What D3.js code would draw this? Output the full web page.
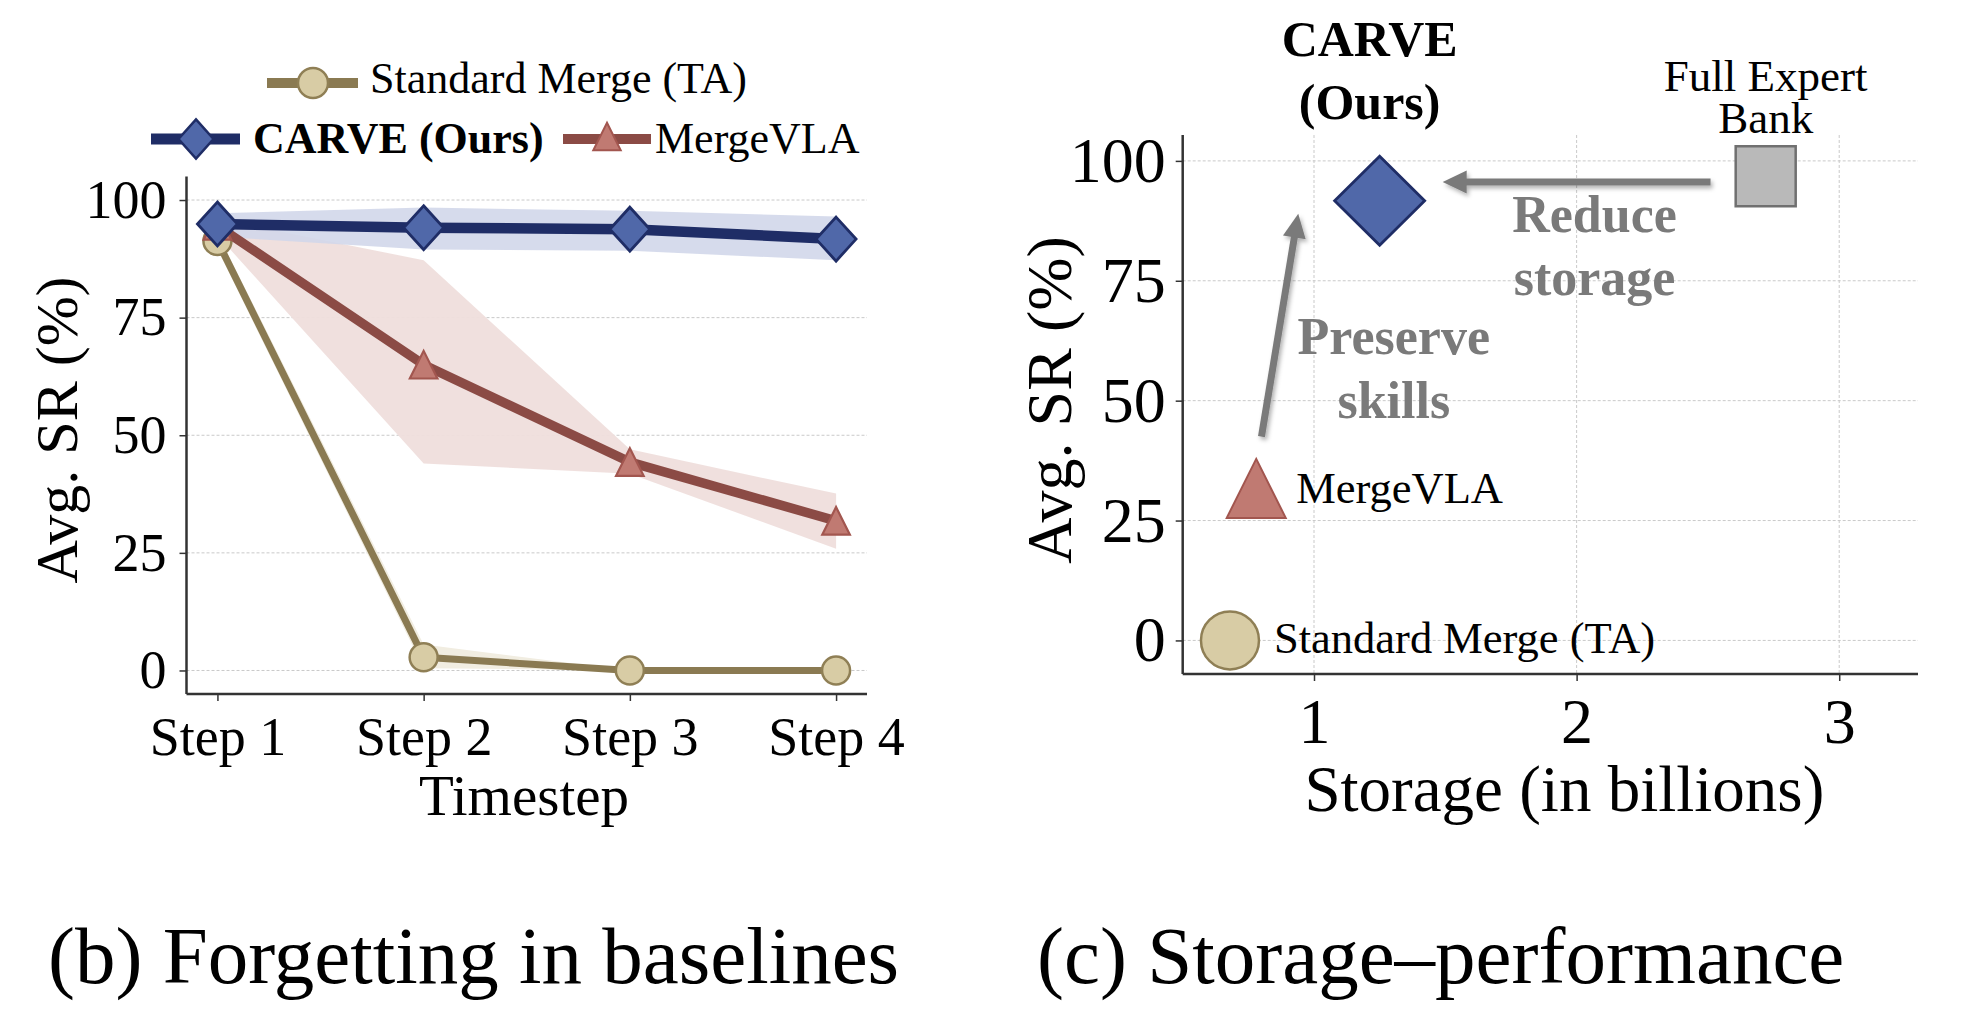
<!DOCTYPE html>
<html><head><meta charset="utf-8">
<script src="https://cdn.jsdelivr.net/npm/d3@7"></script>
<style>
html,body{margin:0;padding:0;background:#fff;}
svg{display:block;font-family:"Liberation Serif","Times New Roman",serif;}
</style></head>
<body>
<svg id="chart" width="1978" height="1030"></svg>
<script>
// ---------- DATA ----------
// (b) Forgetting in baselines
const steps = ["Step 1", "Step 2", "Step 3", "Step 4"];
const carveMean = [94.9, 94.1, 93.8, 91.7];
const carveLo   = [92.2, 89.5, 89.2, 87.2];
const carveHi   = [97.2, 98.4, 97.7, 96.5];
const mvlaMean  = [94.5, 65.0, 44.3, 31.8];
const mvlaLo    = [92.5, 44.0, 41.8, 25.9];
const mvlaHi    = [96.0, 87.2, 47.0, 37.6];
const taMean    = [91.3, 2.8, 0, 0];
const taLo      = [89.5, 0.5, 0, 0];
const taHi      = [93.0, 5.5, 0, 0];
const yTicks = [0, 25, 50, 75, 100];

// (c) Storage–performance
const methods = ["Standard Merge (TA)", "MergeVLA", "CARVE (Ours)", "Full Expert Bank"];
const storage = [0.68, 0.78, 1.25, 2.72];
const avgSR   = [0, 31.7, 91.7, 96.8];
const storageTicks = [1, 2, 3];

const captions = ["(b) Forgetting in baselines", "(c) Storage–performance"];

// ---------- STYLE ----------
const C = {
  carveLine: "#1f2d66", carveFill: "#5068a9", carveBand: "#d2d7ea",
  mvlaLine: "#8b4b45", mvlaFill: "#c07a72", mvlaEdge: "#a2564f", mvlaBand: "#efdedc",
  taLine: "#8a7a52", taFill: "#d8cca5", taEdge: "#8f7f55", taBand: "#f1ede1",
  fullFill: "#b9b9b9", fullEdge: "#707070",
  arrow: "#7a7a7a", grid: "#c9c9c9", spine: "#333"
};

const svg = d3.select("#chart");
svg.append("rect").attr("width", 1978).attr("height", 1030).attr("fill", "#fff");
const defs = svg.append("defs");
const f = defs.append("filter").attr("id", "shadow").attr("x", "-20%").attr("y", "-20%").attr("width", "140%").attr("height", "140%");
f.append("feDropShadow").attr("dx", 2).attr("dy", 3).attr("stdDeviation", 2.2).attr("flood-color", "#000").attr("flood-opacity", 0.3);

// marker path helpers
function diamond(cx, cy, hw, hh) { return `M${cx},${cy-hh}L${cx+hw},${cy}L${cx},${cy+hh}L${cx-hw},${cy}Z`; }
function triangle(cx, cy, h) { return `M${cx},${cy-h}L${cx+h},${cy+h}L${cx-h},${cy+h}Z`; }
function square(cx, cy, h) { return `M${cx-h},${cy-h}L${cx+h},${cy-h}L${cx+h},${cy+h}L${cx-h},${cy+h}Z`; }

function styleAxis(g, fontSize) {
  g.select(".domain").attr("stroke", C.spine).attr("stroke-width", 2.5);
  g.selectAll(".tick line").attr("stroke", C.spine).attr("stroke-width", 1.5);
  g.selectAll(".tick text").attr("fill", "#000").attr("font-size", fontSize)
    .attr("font-family", "Liberation Serif, Times New Roman, serif");
}

// =============== LEFT PANEL ===============
const L = { x0: 186.5, x1: 867, yTop: 176.5, yBot: 694 };
const xL = d3.scaleLinear().domain([-0.15, 3.15]).range([L.x0, L.x1]);
const yL = d3.scaleLinear().domain([-5, 105]).range([L.yBot, L.yTop]);
const gL = svg.append("g");

// grid
gL.append("g").selectAll("line").data(yTicks).join("line")
  .attr("x1", L.x0).attr("x2", L.x1).attr("y1", d => yL(d)).attr("y2", d => yL(d))
  .attr("stroke", C.grid).attr("stroke-width", 1).attr("stroke-dasharray", "3,2");

const idx = d3.range(steps.length);
const area = (lo, hi) => d3.area().x(i => xL(i)).y0(i => yL(lo[i])).y1(i => yL(hi[i]))(idx);
const line = (m) => d3.line().x(i => xL(i)).y(i => yL(m[i]))(idx);

// bands
gL.append("path").attr("d", area(taLo, taHi)).attr("fill", C.taBand);
gL.append("path").attr("d", area(mvlaLo, mvlaHi)).attr("fill", C.mvlaBand).attr("opacity", 0.95);
gL.append("path").attr("d", area(carveLo, carveHi)).attr("fill", C.carveBand).attr("opacity", 0.9);

// TA
gL.append("path").attr("d", line(taMean)).attr("fill", "none").attr("stroke", C.taLine).attr("stroke-width", 7).attr("stroke-linejoin", "round");
gL.append("g").selectAll("circle").data(idx).join("circle")
  .attr("cx", i => xL(i)).attr("cy", i => yL(taMean[i])).attr("r", 14)
  .attr("fill", C.taFill).attr("stroke", C.taEdge).attr("stroke-width", 2.5);
// MergeVLA
gL.append("path").attr("d", line(mvlaMean)).attr("fill", "none").attr("stroke", C.mvlaLine).attr("stroke-width", 9.5).attr("stroke-linejoin", "round");
gL.append("g").selectAll("path").data(idx).join("path")
  .attr("d", i => triangle(xL(i), yL(mvlaMean[i]), 13.8))
  .attr("fill", C.mvlaFill).attr("stroke", C.mvlaEdge).attr("stroke-width", 2.2);
// CARVE
gL.append("path").attr("d", line(carveMean)).attr("fill", "none").attr("stroke", C.carveLine).attr("stroke-width", 10.5).attr("stroke-linejoin", "round");
gL.append("g").selectAll("path").data(idx).join("path")
  .attr("d", i => diamond(xL(i), yL(carveMean[i]), 20, 22))
  .attr("fill", C.carveFill).attr("stroke", C.carveLine).attr("stroke-width", 2.8);

// axes
const axL = gL.append("g").attr("transform", `translate(${L.x0},0)`)
  .call(d3.axisLeft(yL).tickValues(yTicks).tickSize(7).tickPadding(13));
styleAxis(axL, 54);
axL.select(".domain").attr("d", `M0,${L.yTop}V${L.yBot}`);
const axB = gL.append("g").attr("transform", `translate(0,${L.yBot})`)
  .call(d3.axisBottom(xL).tickValues(idx).tickFormat(i => steps[i]).tickSize(7));
styleAxis(axB, 54);
axB.select(".domain").attr("d", `M${L.x0},0H${L.x1}`);
axB.selectAll(".tick text").attr("y", 61).attr("dy", null);

gL.append("text").attr("x", 524).attr("y", 815).attr("text-anchor", "middle")
  .attr("font-size", 57).text("Timestep");
gL.append("text").attr("transform", "translate(77,430) rotate(-90)").attr("text-anchor", "middle")
  .attr("font-size", 60).text("Avg. SR (%)");

// legend
const leg = gL.append("g");
// row 1: Standard Merge
leg.append("line").attr("x1", 267).attr("x2", 358).attr("y1", 83).attr("y2", 83).attr("stroke", C.taLine).attr("stroke-width", 10);
leg.append("circle").attr("cx", 313).attr("cy", 83).attr("r", 15).attr("fill", C.taFill).attr("stroke", C.taEdge).attr("stroke-width", 2.5);
leg.append("text").attr("x", 370).attr("y", 93).attr("font-size", 44).text(methods[0]);
// row 2: CARVE
leg.append("line").attr("x1", 151).attr("x2", 240).attr("y1", 139).attr("y2", 139).attr("stroke", C.carveLine).attr("stroke-width", 11);
leg.append("path").attr("d", diamond(196, 139, 17.5, 19.7)).attr("fill", C.carveFill).attr("stroke", C.carveLine).attr("stroke-width", 2.5);
leg.append("text").attr("x", 253).attr("y", 153).attr("font-size", 44).attr("font-weight", "bold").text(methods[2]);
// row 2: MergeVLA
leg.append("line").attr("x1", 563).attr("x2", 651).attr("y1", 139).attr("y2", 139).attr("stroke", C.mvlaLine).attr("stroke-width", 10);
leg.append("path").attr("d", triangle(607, 136.5, 13.7)).attr("fill", C.mvlaFill).attr("stroke", C.mvlaEdge).attr("stroke-width", 2);
leg.append("text").attr("x", 655).attr("y", 153).attr("font-size", 44).text(methods[1]);

// =============== RIGHT PANEL ===============
const R = { x0: 1182.7, x1: 1918, yTop: 135, yBot: 674 };
const xR = d3.scaleLinear().domain([0.5, 3.3]).range([R.x0, R.x1]);
const yR = d3.scaleLinear().domain([-7, 105.4]).range([R.yBot, R.yTop]);
const gR = svg.append("g");

gR.append("g").selectAll("line").data(yTicks).join("line")
  .attr("x1", R.x0).attr("x2", R.x1).attr("y1", d => yR(d)).attr("y2", d => yR(d))
  .attr("stroke", C.grid).attr("stroke-width", 1).attr("stroke-dasharray", "3,2");
gR.append("g").selectAll("line").data(storageTicks).join("line")
  .attr("x1", d => xR(d)).attr("x2", d => xR(d)).attr("y1", R.yTop).attr("y2", R.yBot)
  .attr("stroke", C.grid).attr("stroke-width", 1).attr("stroke-dasharray", "3,2");

// arrows (data coords)
const arrows = [
  { from: [2.51, 95.6], to: [1.49, 95.6] },
  { from: [0.80, 42.5], to: [0.94, 89.0] }
];
const ga = gR.append("g").attr("filter", "url(#shadow)");
arrows.forEach(a => {
  const x1 = xR(a.from[0]), y1 = yR(a.from[1]), x2 = xR(a.to[0]), y2 = yR(a.to[1]);
  const dx = x2 - x1, dy = y2 - y1, len = Math.hypot(dx, dy), ux = dx / len, uy = dy / len;
  const hl = 24, hw = 11.5;
  const bx = x2 - ux * hl, by = y2 - uy * hl;
  ga.append("line").attr("x1", x1).attr("y1", y1).attr("x2", bx + ux * 2).attr("y2", by + uy * 2)
    .attr("stroke", C.arrow).attr("stroke-width", 7);
  ga.append("path").attr("d", `M${x2},${y2}L${bx - uy * hw},${by + ux * hw}L${bx + uy * hw},${by - ux * hw}Z`)
    .attr("fill", C.arrow);
});

// points
const pts = gR.append("g");
pts.append("circle").attr("cx", xR(storage[0])).attr("cy", yR(avgSR[0])).attr("r", 29)
  .attr("fill", C.taFill).attr("stroke", C.taEdge).attr("stroke-width", 2.5);
pts.append("path").attr("d", triangle(xR(storage[1]), yR(avgSR[1]), 29.5))
  .attr("fill", C.mvlaFill).attr("stroke", C.mvlaEdge).attr("stroke-width", 2);
pts.append("path").attr("d", diamond(xR(storage[2]), yR(avgSR[2]), 45, 44.5))
  .attr("fill", C.carveFill).attr("stroke", C.carveLine).attr("stroke-width", 2.8);
pts.append("path").attr("d", square(xR(storage[3]), yR(avgSR[3]), 30))
  .attr("fill", C.fullFill).attr("stroke", C.fullEdge).attr("stroke-width", 2.5);

// point labels
const lab = gR.append("g");
lab.append("text").attr("x", xR(storage[0]) + 44).attr("y", yR(avgSR[0]) + 13).attr("font-size", 44.5).text(methods[0]);
lab.append("text").attr("x", xR(storage[1]) + 40).attr("y", yR(avgSR[1]) + 15).attr("font-size", 44.5).text(methods[1]);
const cx2 = xR(storage[2]) - 10, cy2 = yR(avgSR[2]);
lab.append("text").attr("x", cx2).attr("y", cy2 - 145).attr("text-anchor", "middle").attr("font-size", 50).attr("font-weight", "bold").text("CARVE");
lab.append("text").attr("x", cx2).attr("y", cy2 - 82).attr("text-anchor", "middle").attr("font-size", 50).attr("font-weight", "bold").text("(Ours)");
const cx3 = xR(storage[3]), cy3 = yR(avgSR[3]);
lab.append("text").attr("x", cx3).attr("y", cy3 - 85).attr("text-anchor", "middle").attr("font-size", 45).text("Full Expert");
lab.append("text").attr("x", cx3).attr("y", cy3 - 43).attr("text-anchor", "middle").attr("font-size", 45).text("Bank");

// annotation texts
const notes = [
  { lines: ["Reduce", "storage"], x: 1594.5, y: 231.7 },
  { lines: ["Preserve", "skills"], x: 1393.8, y: 354 }
];
notes.forEach(n => n.lines.forEach((t, k) => {
  lab.append("text").attr("x", n.x).attr("y", n.y + k * 63.5).attr("text-anchor", "middle")
    .attr("font-size", 52).attr("font-weight", "bold").attr("fill", C.arrow).text(t);
}));

// axes
const axRL = gR.append("g").attr("transform", `translate(${R.x0},0)`)
  .call(d3.axisLeft(yR).tickValues(yTicks).tickSize(7).tickPadding(10));
styleAxis(axRL, 64);
axRL.select(".domain").attr("d", `M0,${R.yTop}V${R.yBot}`);
const axRB = gR.append("g").attr("transform", `translate(0,${R.yBot})`)
  .call(d3.axisBottom(xR).tickValues(storageTicks).tickFormat(d3.format("d")).tickSize(7));
styleAxis(axRB, 64);
axRB.select(".domain").attr("d", `M${R.x0},0H${R.x1}`);
axRB.selectAll(".tick text").attr("y", 69).attr("dy", null);

gR.append("text").attr("x", (R.x0 + R.x1) / 2 + 14).attr("y", 811).attr("text-anchor", "middle")
  .attr("font-size", 65).text("Storage (in billions)");
gR.append("text").attr("transform", "translate(1071,400) rotate(-90)").attr("text-anchor", "middle")
  .attr("font-size", 64).text("Avg. SR (%)");

// captions
svg.append("text").attr("x", 48).attr("y", 983).attr("font-size", 81).text(captions[0]);
svg.append("text").attr("x", 1037).attr("y", 983).attr("font-size", 81).text(captions[1]);
</script>
</body></html>
